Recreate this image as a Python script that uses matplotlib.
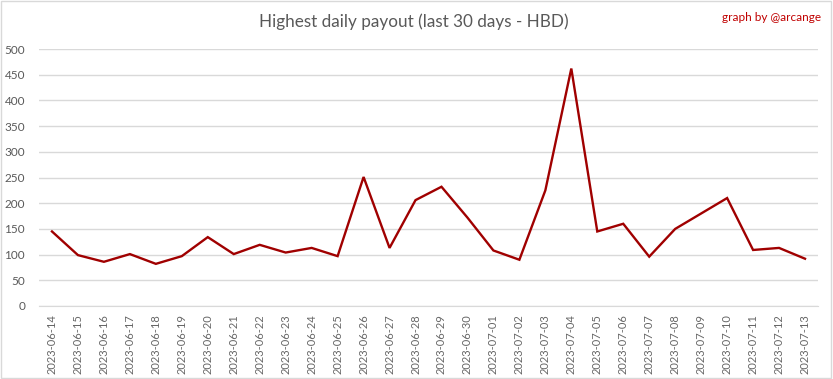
import matplotlib.pyplot as plt
from matplotlib.patches import Rectangle

dates = ['2023-06-14', '2023-06-15', '2023-06-16', '2023-06-17', '2023-06-18',
         '2023-06-19', '2023-06-20', '2023-06-21', '2023-06-22', '2023-06-23',
         '2023-06-24', '2023-06-25', '2023-06-26', '2023-06-27', '2023-06-28',
         '2023-06-29', '2023-06-30', '2023-07-01', '2023-07-02', '2023-07-03',
         '2023-07-04', '2023-07-05', '2023-07-06', '2023-07-07', '2023-07-08',
         '2023-07-09', '2023-07-10', '2023-07-11', '2023-07-12', '2023-07-13']
payout = [145, 99, 86, 101, 82, 97, 134, 101, 119, 104,
          113, 97, 251, 113, 206, 232, 172, 108, 90, 225,
          462, 145, 160, 96, 150, 180, 210, 109, 113, 92]
yticks = list(range(0, 501, 50))

plt.rcParams['font.family'] = ['Lato', 'DejaVu Sans']

fig = plt.figure(figsize=(8.33, 3.79), dpi=100)
fig.patches.append(Rectangle((0.001, 0.002), 0.997, 0.995, transform=fig.transFigure,
                             fill=False, edgecolor='#d9d9d9', linewidth=1))
ax = fig.add_axes([39 / 833, 1 - 306 / 379, (818 - 39) / 833, (306 - 49) / 379])

x = range(len(dates))
ax.plot(x, payout, color='#a00000', linewidth=1.7, solid_joinstyle='miter')

ax.set_xlim(-0.5, len(dates) - 0.5)
ax.set_ylim(0, 500)
ax.set_yticks(yticks)
ax.set_xticks(list(x))
ax.set_xticklabels(dates, rotation=90, fontsize=8, color='#666666')
ax.tick_params(axis='y', labelsize=8.5, labelcolor='#595959', length=0, pad=10)
ax.tick_params(axis='x', length=0, pad=6)
ax.grid(axis='y', color='#d9d9d9', linewidth=1)
ax.set_axisbelow(True)
for s in ['top', 'right', 'left']:
    ax.spines[s].set_visible(False)
ax.spines['bottom'].set_color('#d9d9d9')

fig.text(0.497, 0.942, 'Highest daily payout (last 30 days - HBD)', ha='center', va='center',
         fontsize=12.3, color='#595959')
fig.text(0.986, 0.955, 'graph by @arcange', ha='right', va='center', fontsize=8.5, color='#c00000')

fig.savefig('out.png', dpi=100)
